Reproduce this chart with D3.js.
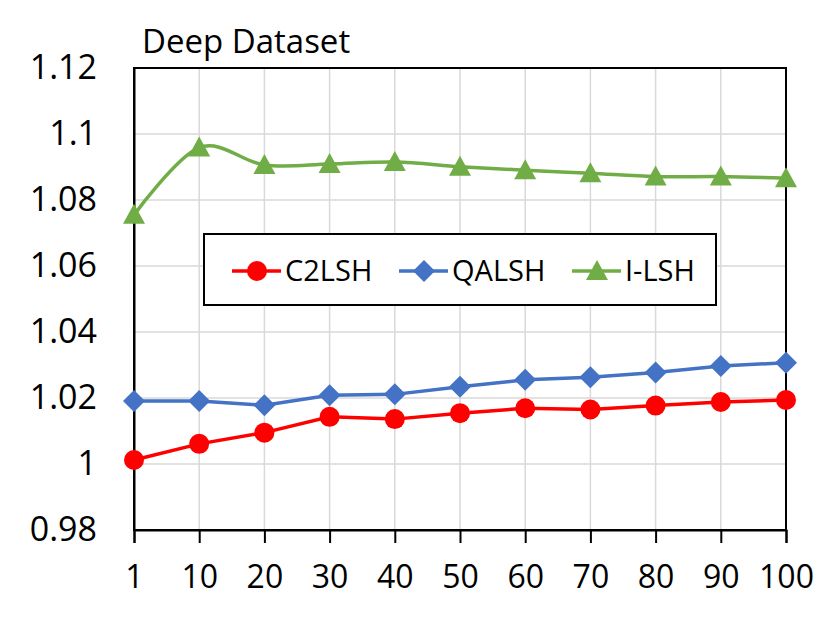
<!DOCTYPE html>
<html>
<head>
<meta charset="utf-8">
<script src="https://cdn.jsdelivr.net/npm/d3@7"></script>
<style>
  body { margin: 0; background: #fff; }
  text { font-family: "Open Sans", sans-serif; fill: #000; }
</style>
</head>
<body>
<svg width="831" height="631"></svg>
<script>
var svg = d3.select("svg");

// data
var categories = ["1", "10", "20", "30", "40", "50", "60", "70", "80", "90", "100"];
var c2lsh = [1.0012, 1.0061, 1.0095, 1.0143, 1.0136, 1.0154, 1.0169, 1.0165, 1.0177, 1.0188, 1.0194];
var qalsh = [1.0191, 1.0191, 1.0178, 1.0208, 1.0211, 1.0234, 1.0255, 1.0263, 1.0277, 1.0297, 1.0307];
var ilsh  = [1.0755, 1.0959, 1.0906, 1.0909, 1.0915, 1.0901, 1.0890, 1.0881, 1.0871, 1.0871, 1.0866];
var yTicks = [0.98, 1, 1.02, 1.04, 1.06, 1.08, 1.1, 1.12];
var seriesNames = ["C2LSH", "QALSH", "I-LSH"];

let margin = { left: 134, right: 45, top: 68, bottom: 101 };
var width = 831, height = 631;

var x = d3.scalePoint()
    .domain(categories)
    .range([margin.left, width - margin.right]);

var y = d3.scaleLinear()
    .domain([0.98, 1.12])
    .range([height - margin.bottom, margin.top]);

// gridlines
svg.append("g").selectAll("line")
    .data(yTicks)
  .enter().append("line")
    .attr("x1", margin.left).attr("x2", width - margin.right)
    .attr("y1", d => y(d)).attr("y2", d => y(d))
    .attr("stroke", "#d9d9d9").attr("stroke-width", 1.5);

svg.append("g").selectAll("line")
    .data(categories)
  .enter().append("line")
    .attr("x1", d => x(d)).attr("x2", d => x(d))
    .attr("y1", margin.top).attr("y2", height - margin.bottom)
    .attr("stroke", "#d9d9d9").attr("stroke-width", 1.5);

// plot border
svg.append("rect")
    .attr("x", margin.left).attr("y", margin.top)
    .attr("width", width - margin.right - margin.left)
    .attr("height", height - margin.bottom - margin.top)
    .attr("fill", "none").attr("stroke", "#000").attr("stroke-width", 2);

// x axis
var xAxis = svg.append("g")
    .attr("transform", "translate(0," + (height - margin.bottom) + ")")
    .call(d3.axisBottom(x).tickSize(13).tickPadding(22));
xAxis.select(".domain").attr("stroke", "#000").attr("stroke-width", 2);
xAxis.selectAll(".tick line").attr("stroke", "#000").attr("stroke-width", 2);
xAxis.selectAll("text").attr("font-size", "32px").attr("font-family", "Open Sans").attr("fill", "#000");

// y axis
var yAxis = svg.append("g")
    .attr("transform", "translate(" + margin.left + ",0)")
    .call(d3.axisLeft(y).tickValues(yTicks).tickSize(0).tickPadding(37)
      .tickFormat(d3.format("~g")));
yAxis.select(".domain").attr("stroke", "#000").attr("stroke-width", 2);
yAxis.selectAll("text").attr("font-size", "34px").attr("font-family", "Open Sans").attr("fill", "#000");

// title
svg.append("text")
    .attr("x", 142).attr("y", 53)
    .attr("font-size", "33px")
    .text("Deep Dataset");

// lines
var lineStraight = d3.line()
    .x((d, i) => x(categories[i]))
    .y(d => y(d));

var lineSmooth = d3.line()
    .x((d, i) => x(categories[i]))
    .y(d => y(d))
    .curve(d3.curveCatmullRom.alpha(0));

svg.append("path").datum(c2lsh)
    .attr("d", lineStraight).attr("fill", "none")
    .attr("stroke", "#ff0000").attr("stroke-width", 3.5);
svg.append("path").datum(qalsh)
    .attr("d", lineStraight).attr("fill", "none")
    .attr("stroke", "#4472c4").attr("stroke-width", 3.5);
svg.append("path").datum(ilsh)
    .attr("d", lineSmooth).attr("fill", "none")
    .attr("stroke", "#70ad47").attr("stroke-width", 3.5);

var circle = d3.symbol().type(d3.symbolCircle).size(Math.PI * 100);
var diamond = "M0,-11L11,0L0,11L-11,0Z";
var triangle = "M0,-11L11,9L-11,9Z";

svg.append("g").selectAll("path")
    .data(c2lsh)
  .enter().append("path")
    .attr("d", circle)
    .attr("transform", (d, i) => "translate(" + x(categories[i]) + "," + y(d) + ")")
    .attr("fill", "#ff0000");

svg.append("g").selectAll("path")
    .data(qalsh)
  .enter().append("path")
    .attr("d", diamond)
    .attr("transform", (d, i) => "translate(" + x(categories[i]) + "," + y(d) + ")")
    .attr("fill", "#4472c4");

svg.append("g").selectAll("path")
    .data(ilsh)
  .enter().append("path")
    .attr("d", triangle)
    .attr("transform", (d, i) => "translate(" + x(categories[i]) + "," + y(d) + ")")
    .attr("fill", "#70ad47");

// legend
var legend = svg.append("g");
legend.append("rect")
    .attr("x", 204).attr("y", 234)
    .attr("width", 512).attr("height", 71)
    .attr("fill", "#fff").attr("stroke", "#000").attr("stroke-width", 2);

var legendItems = [
  { name: seriesNames[0], color: "#ff0000", shape: circle(), x: 232 },
  { name: seriesNames[1], color: "#4472c4", shape: diamond, x: 399 },
  { name: seriesNames[2], color: "#70ad47", shape: triangle, x: 572 }
];

var item = legend.selectAll(".item")
    .data(legendItems)
  .enter().append("g")
    .attr("class", "item")
    .attr("transform", d => "translate(" + d.x + ",271)");

item.append("line")
    .attr("x1", 0).attr("x2", 49)
    .attr("stroke", d => d.color).attr("stroke-width", 3.5);
item.append("path")
    .attr("d", d => d.shape)
    .attr("transform", "translate(25,0)")
    .attr("fill", d => d.color);
item.append("text")
    .attr("x", 53).attr("dy", "0.35em")
    .attr("font-size", "29px")
    .text(d => d.name);
</script>
</body>
</html>
